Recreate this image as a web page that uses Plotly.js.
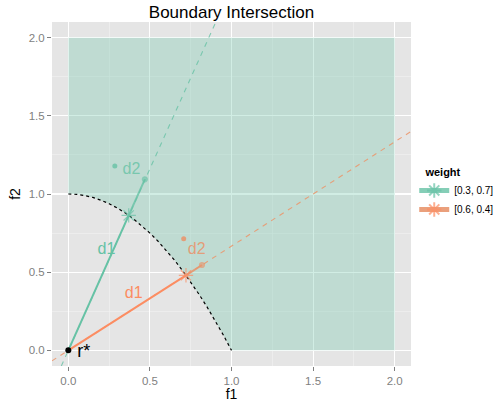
<!DOCTYPE html>
<html>
<head>
<meta charset="utf-8">
<script src="https://cdn.plot.ly/plotly-3.0.1.min.js"></script>
<style>html,body{margin:0;padding:0;background:#fff;}#chart{width:495px;height:402px;}</style>
</head>
<body>
<div id="chart"></div>
<script>
// ---- data ----
const weightNames = ['[0.3, 0.7]', '[0.6, 0.4]'];
const weightColors = ['#66C2A5', '#FC8D62'];
const weightColorsSoft = ['rgba(102,194,165,0.8)', 'rgba(232,150,110,0.9)'];
const weightColorsDash = ['rgba(102,194,165,0.8)', 'rgba(236,148,104,0.85)'];

// boundary curve (dashed black) from (0,1) to (1,0)
const boundaryF1 = [0, 0.05, 0.1, 0.15, 0.2, 0.25, 0.3, 0.35, 0.4, 0.45, 0.5, 0.55, 0.6, 0.65, 0.7, 0.75, 0.8, 0.85, 0.9, 0.95, 1.0];
const boundaryF2 = [1.0, 0.998, 0.99, 0.978, 0.96, 0.938, 0.91, 0.878, 0.84, 0.798, 0.75, 0.698, 0.64, 0.578, 0.51, 0.438, 0.36, 0.278, 0.19, 0.098, 0.0];
// upper corners of the shaded region
const regionCornerF1 = [2.0, 2.0, 0.0];
const regionCornerF2 = [0.0, 2.0, 2.0];

// dashed direction lines (ends at the panel edges)
const rayF1 = [[-0.043, 0.904], [-0.1, 2.1]];
const rayF2 = [[-0.1, 2.1], [-0.067, 1.4]];

// intersection points and d2 tips
const crossF1 = [0.370, 0.721];
const crossF2 = [0.863, 0.480];
const tipF1 = [0.469, 0.819];
const tipF2 = [1.094, 0.546];

// labels
const d1LabelF1 = [0.234, 0.401];
const d1LabelF2 = [0.642, 0.359];
const d2LabelF1 = [0.387, 0.787];
const d2LabelF2 = [1.153, 0.642];
const d2DotF1 = [0.285, 0.707];
const d2DotF2 = [1.179, 0.714];

const refF1 = [0.0];
const refF2 = [0.0];
const refLabelF1 = [0.094];
const refLabelF2 = [-0.015];
const refLabel = ['r*'];

const tickVals = [0, 0.5, 1.0, 1.5, 2.0];
const tickText = ['0.0', '0.5', '1.0', '1.5', '2.0'];

// ---- traces ----
const FONT = 'Liberation Sans, Arial, sans-serif';
const traces = [];

traces.push({
  x: boundaryF1.concat(regionCornerF1),
  y: boundaryF2.concat(regionCornerF2),
  mode: 'lines', fill: 'toself',
  fillcolor: 'rgba(102,194,165,0.3)',
  line: {width: 0}, hoverinfo: 'skip', showlegend: false
});

traces.push({
  x: boundaryF1, y: boundaryF2, mode: 'lines',
  line: {color: '#000000', width: 1.2, dash: '3px,3px'},
  showlegend: false, hoverinfo: 'skip'
});

for (let i = 0; i < 2; i++) {
  traces.push({
    x: rayF1[i], y: rayF2[i], mode: 'lines',
    line: {color: weightColorsDash[i], width: 1.1, dash: '5px,5px'},
    showlegend: false, hoverinfo: 'skip'
  });
}

for (let i = 0; i < 2; i++) {
  traces.push({
    x: [refF1[0], crossF1[i]], y: [refF2[0], crossF2[i]], mode: 'lines',
    line: {color: weightColors[i], width: 2},
    showlegend: false, hoverinfo: 'skip'
  });
}

for (let i = 0; i < 2; i++) {
  traces.push({
    x: [crossF1[i], tipF1[i]], y: [crossF2[i], tipF2[i]], mode: 'lines+markers',
    name: weightNames[i],
    line: {color: weightColorsSoft[i], width: 2},
    marker: {
      symbol: ['asterisk-open', 'circle'], size: [12, 5],
      color: [weightColors[i], weightColorsSoft[i]],
      line: {color: [weightColors[i], weightColorsSoft[i]], width: 1.2}
    },
    showlegend: true, hoverinfo: 'skip'
  });
}

for (let i = 0; i < 2; i++) {
  traces.push({
    x: [d2DotF1[i]], y: [d2DotF2[i]], mode: 'markers',
    marker: {color: weightColorsSoft[i], size: 5},
    showlegend: false, hoverinfo: 'skip'
  });
  traces.push({
    x: [d1LabelF1[i]], y: [d1LabelF2[i]], mode: 'text', text: ['d1'],
    textposition: 'middle center',
    textfont: {family: FONT, size: 16, color: weightColors[i]},
    showlegend: false, hoverinfo: 'skip'
  });
  traces.push({
    x: [d2LabelF1[i]], y: [d2LabelF2[i]], mode: 'text', text: ['d2'],
    textposition: 'middle center',
    textfont: {family: FONT, size: 16, color: weightColorsSoft[i]},
    showlegend: false, hoverinfo: 'skip'
  });
}

traces.push({
  x: refF1, y: refF2, mode: 'markers',
  marker: {color: '#000000', size: 6},
  showlegend: false, hoverinfo: 'skip'
});
traces.push({
  x: refLabelF1, y: refLabelF2, mode: 'text', text: refLabel,
  textposition: 'middle center',
  textfont: {family: FONT, size: 18, color: '#000000'},
  showlegend: false, hoverinfo: 'skip'
});

const axisCommon = {
  tickmode: 'array', tickvals: tickVals, ticktext: tickText,
  showgrid: true, gridcolor: '#FFFFFF', gridwidth: 1.1,
  zeroline: false, showline: false,
  ticks: 'outside', ticklen: 4, tickwidth: 1, tickcolor: '#7F7F7F',
  tickfont: {family: FONT, size: 11.5, color: '#7F7F7F'},
  minor: {tickmode: 'array', tickvals: [0.25, 0.75, 1.25, 1.75], showgrid: true, gridcolor: '#F2F2F2', gridwidth: 0.6, ticks: ''},
  automargin: false, fixedrange: true
};

const layout = {
  width: 495, height: 402,
  margin: {l: 52, r: 84, t: 22, b: 36, pad: 0, autoexpand: false},
  paper_bgcolor: '#FFFFFF', plot_bgcolor: '#E5E5E5',
  font: {family: FONT, color: '#000000'},
  title: {text: 'Boundary Intersection', font: {family: FONT, size: 17, color: '#000000'},
          x: 0.5, xref: 'paper', xanchor: 'center', y: 0.970, yref: 'container', yanchor: 'middle'},
  xaxis: Object.assign({}, axisCommon, {
    range: [-0.1, 2.1],
    title: {text: 'f1', font: {family: FONT, size: 14, color: '#000000'}, standoff: 2}
  }),
  yaxis: Object.assign({}, axisCommon, {
    range: [-0.1, 2.1],
    title: {text: 'f2', font: {family: FONT, size: 14, color: '#000000'}, standoff: 4}
  }),
  showlegend: true,
  legend: {
    x: 1.009, xanchor: 'left', y: 0.594, yanchor: 'top',
    bgcolor: 'rgba(255,255,255,0)', borderwidth: 0,
    title: {text: '\u00a0\u00a0\u00a0<b>weight</b>', font: {family: FONT, size: 11, color: '#000000'}},
    font: {family: FONT, size: 10, color: '#000000'},
    itemsizing: 'constant', itemwidth: 30, tracegroupgap: 0
  }
};

Plotly.newPlot('chart', traces, layout, {displayModeBar: false, staticPlot: true});
</script>
</body>
</html>
